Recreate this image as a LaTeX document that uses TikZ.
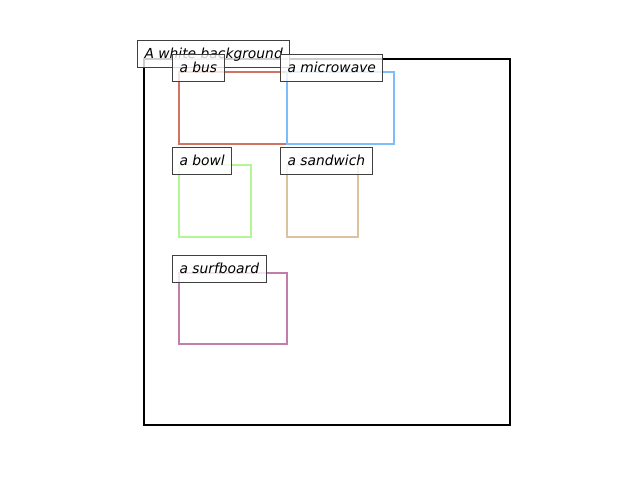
\documentclass[tikz,border=0pt]{standalone}
\usepackage{fontspec}
\setmainfont{DejaVu Sans}
\usepackage{tikz}
\definecolor{busred}{RGB}{210,115,100}
\definecolor{waveblue}{RGB}{125,190,250}
\definecolor{bowlgreen}{RGB}{182,245,150}
\definecolor{sandtan}{RGB}{220,195,160}
\definecolor{surfpurple}{RGB}{195,125,170}
\tikzstyle{labelbox}=[draw=black!75,fill=white,fill opacity=0.8,text opacity=1,
                      line width=0.8bp,anchor=west,inner xsep=5bp,inner ysep=4.8bp,
                      text height=8.5bp,text depth=1.5bp,font=\itshape]
\tikzstyle{objbox}=[line width=1.8bp]

\begin{document}
\begin{tikzpicture}[x=0.72bp,y=-0.72bp]
    \useasboundingbox (0,0) rectangle (640,480);
    \draw[line width=1.6bp,black] (144,59) rectangle (510,425);
    \node (bg) at (137,54) [labelbox]{A white background};
    \draw[objbox,busred] (179,72) rectangle (287,144);
    \node (bus) at (172,68) [labelbox]{a bus};
    \draw[objbox,waveblue] (287,72) rectangle (394,144);
    \node (wave) at (280,68) [labelbox]{a microwave};
    \draw[objbox,bowlgreen] (179,165) rectangle (251,237);
    \node (bowl) at (172,161) [labelbox]{a bowl};
    \draw[objbox,sandtan] (287,165) rectangle (358,237);
    \node (sand) at (280,161) [labelbox]{a sandwich};
    \draw[objbox,surfpurple] (179,273) rectangle (287,344);
    \node (surf) at (172,269) [labelbox]{a surfboard};
  \end{tikzpicture}
\end{document}
